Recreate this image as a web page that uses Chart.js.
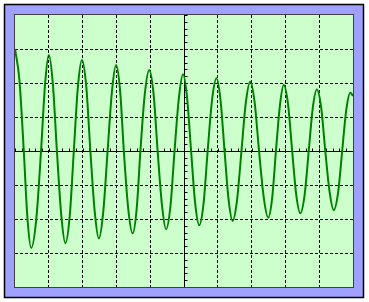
<!DOCTYPE html>
<html lang="es">
<head>
<meta charset="UTF-8">
<title>Osciloscopio</title>
<script src="https://cdn.jsdelivr.net/npm/chart.js@4.4.1/dist/chart.umd.min.js"></script>
<style>
    body { margin: 0; background: #ffffff; }
    canvas { display: block; }
</style>
</head>
<body>
<canvas id="grafica" width="369" height="302"></canvas>
<script>
const tiempo = [0, 0.13, 0.26, 0.37, 0.48, 0.63, 0.77, 0.89, 1.0, 1.12, 1.24, 1.37, 1.49, 1.62, 1.74, 1.86,
    1.98, 2.11, 2.23, 2.36, 2.48, 2.61, 2.74, 2.87, 2.99, 3.11, 3.22, 3.35, 3.48, 3.60, 3.71, 3.84,
    3.97, 4.10, 4.22, 4.35, 4.47, 4.60, 4.72, 4.85, 4.97, 5.09, 5.21, 5.33, 5.45, 5.58, 5.70, 5.83,
    5.96, 6.08, 6.20, 6.32, 6.44, 6.57, 6.70, 6.83, 6.96, 7.09, 7.22, 7.36, 7.49, 7.61, 7.72, 7.84,
    7.95, 8.08, 8.20, 8.32, 8.44, 8.57, 8.69, 8.81, 8.93, 9.06, 9.18, 9.31, 9.43, 9.56, 9.68, 9.80,
    9.92, 10];
const senal = [3.0, 2.1, 0, -2.0, -2.85, -2.0, 0, 1.97, 2.82, 1.97, 0, -1.9, -2.71, -1.9, 0, 1.88,
    2.68, 1.88, 0, -1.8, -2.57, -1.8, 0, 1.77, 2.53, 1.77, 0, -1.7, -2.42, -1.7, 0, 1.67,
    2.38, 1.67, 0, -1.61, -2.30, -1.61, 0, 1.58, 2.26, 1.58, 0, -1.53, -2.18, -1.53, 0, 1.5,
    2.14, 1.5, 0, -1.44, -2.06, -1.44, 0, 1.43, 2.04, 1.43, 0, -1.37, -1.96, -1.37, 0, 1.36,
    1.94, 1.36, 0, -1.28, -1.83, -1.28, 0, 1.27, 1.81, 1.27, 0, -1.22, -1.74, -1.22, 0, 1.2,
    1.71, 1.62];
const rangoX = [0, 10];
const rangoY = [-4, 4];

const puntos = tiempo.map((t, i) => ({ x: t, y: senal[i] }));

// --- MARCO, FONDO Y EJES CENTRALES ---
const marcoOsciloscopio = {
    id: 'marco',
    beforeDraw(chart) {
        const c = chart.ctx;
        const a = chart.chartArea;
        c.save();
        c.fillStyle = '#ffffff';
        c.fillRect(0, 0, chart.width, chart.height);
        c.fillStyle = '#a0a0ff';
        c.fillRect(4, 4, 360, 294);
        c.strokeStyle = '#000000';
        c.lineWidth = 1.5;
        c.strokeRect(4.5, 4.5, 359, 293);
        c.fillStyle = '#ccffcc';
        c.fillRect(a.left, a.top, a.right - a.left, a.bottom - a.top);
        c.restore();
    },
    beforeDatasetsDraw(chart) {
        const c = chart.ctx;
        const a = chart.chartArea;
        const ex = chart.scales.x;
        const ey = chart.scales.y;
        const x0 = Math.round(ex.getPixelForValue(5)) + 0.5;
        const y0 = Math.round(ey.getPixelForValue(0)) + 0.5;
        c.save();
        c.strokeStyle = '#000000';
        c.lineWidth = 1;
        c.beginPath();
        c.moveTo(a.left, y0); c.lineTo(a.right, y0);
        c.moveTo(x0, a.top); c.lineTo(x0, a.bottom);
        // marcas pequeñas cada 0.2 divisiones
        for (let v = rangoX[0]; v <= rangoX[1] + 0.001; v += 0.2) {
            const px = Math.round(ex.getPixelForValue(v)) + 0.5;
            c.moveTo(px, y0); c.lineTo(px, y0 - 3);
        }
        for (let v = rangoY[0]; v <= rangoY[1] + 0.001; v += 0.2) {
            const py = Math.round(ey.getPixelForValue(v)) + 0.5;
            c.moveTo(x0, py); c.lineTo(x0 + 3, py);
        }
        c.stroke();
        c.restore();
    },
    afterDraw(chart) {
        const c = chart.ctx;
        const a = chart.chartArea;
        c.save();
        c.strokeStyle = '#404040';
        c.lineWidth = 1;
        c.strokeRect(a.left - 0.5, a.top - 0.5, a.right - a.left + 1, a.bottom - a.top + 1);
        c.restore();
    }
};

// las lineas del borde no se pintan punteadas
const rejilla = (rango) => (ctx) => {
    const v = ctx.tick ? ctx.tick.value : null;
    return (v === rango[0] || v === rango[1]) ? 'rgba(0,0,0,0)' : '#000000';
};

new Chart(document.getElementById('grafica'), {
    type: 'line',
    data: {
        datasets: [{
            label: 'Señal',
            data: puntos,
            borderColor: '#008000',
            borderWidth: 2,
            pointRadius: 0,
            cubicInterpolationMode: 'monotone',
            fill: false
        }]
    },
    options: {
        responsive: false,
        animation: false,
        devicePixelRatio: 1,
        layout: { padding: { left: 15, top: 15, right: 16, bottom: 15 } },
        plugins: { legend: { display: false }, tooltip: { enabled: false } },
        scales: {
            x: {
                type: 'linear', min: rangoX[0], max: rangoX[1],
                ticks: { display: false, stepSize: 1, autoSkip: false },
                grid: { color: rejilla(rangoX), lineWidth: 1, drawTicks: false },
                border: { display: false, dash: [3, 2] }
            },
            y: {
                type: 'linear', min: rangoY[0], max: rangoY[1],
                ticks: { display: false, stepSize: 1, autoSkip: false },
                grid: { color: rejilla(rangoY), lineWidth: 1, drawTicks: false },
                border: { display: false, dash: [3, 2] }
            }
        }
    },
    plugins: [marcoOsciloscopio]
});
</script>
</body>
</html>
